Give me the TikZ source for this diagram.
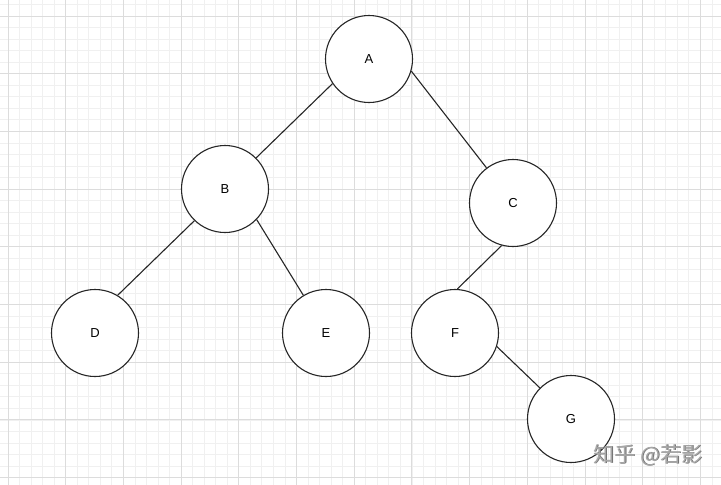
\documentclass[tikz,border=0pt]{standalone}
\usepackage{fontspec}
\setmainfont{Liberation Sans}
\newfontfamily\cjk{Noto Sans CJK SC}
\definecolor{minorgrid}{HTML}{F0F0F0}
\definecolor{majorgrid}{HTML}{DCDCDC}
\definecolor{wm}{HTML}{A8A8A8}
\begin{document}
\begin{tikzpicture}[x=1pt,y=-1pt,
  treenode/.style={circle,draw=black!85,line width=1.1pt,minimum size=87pt,inner sep=0pt,fill=white,font=\fontsize{13}{15}\selectfont},
  edge/.style={draw=black!85,line width=1.1pt}]
\useasboundingbox (0,0) rectangle (721,485);
\fill[white] (0,0) rectangle (721,485);
% minor grid
\foreach \i in {-1,...,62} {
  \draw[minorgrid,line width=0.8pt] ({8+11.54*\i},0) -- ({8+11.54*\i},485);
}
\foreach \j in {-2,...,42} {
  \draw[minorgrid,line width=0.8pt] (0,{16+11.54*\j}) -- (721,{16+11.54*\j});
}
% major grid
\foreach \i in {0,...,12} {
  \draw[majorgrid,line width=1pt] ({8+57.7*\i},0) -- ({8+57.7*\i},485);
}
\foreach \j in {0,...,8} {
  \draw[majorgrid,line width=1pt] (0,{16+57.7*\j}) -- (721,{16+57.7*\j});
}
\node[treenode] (A) at (369,59) {A};
\node[treenode] (B) at (225,189) {B};
\node[treenode] (C) at (513,203) {C};
\node[treenode] (D) at (95,333) {D};
\node[treenode] (E) at (326,333) {E};
\node[treenode] (F) at (455,333) {F};
\node[treenode] (G) at (571,419) {G};
\draw[edge] (A.214) -- (B.45);
\draw[edge] (A.-16) -- (C.127);
\draw[edge] (B.226) -- (D.59);
\draw[edge] (B.-44) -- (E.121);
\draw[edge] (C.255) -- (F.87);
\draw[edge] (F.-18) -- (G.135);
\node[font=\cjk\fontsize{21}{23}\selectfont,text=black!55] (wms) at (648.8,455.8) {知乎 @若影};
\node[font=\cjk\fontsize{21}{23}\selectfont,text=wm] (wm) at (648,455) {知乎 @若影};
\end{tikzpicture}
\end{document}
